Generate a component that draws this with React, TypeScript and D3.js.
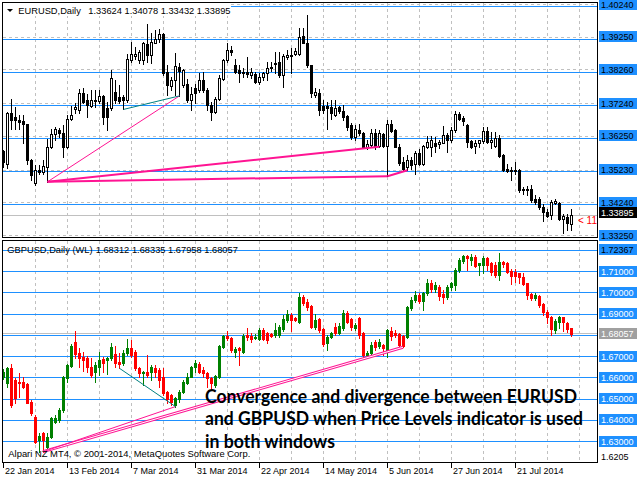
import * as d3 from "d3";

// MT4 screenshot: EURUSD (top) and GBPUSD (bottom) daily candles, with Price Levels lines

const firstDay = new Date(2014, 0, 22);
const lastDay = new Date(2014, 7, 9);

// [open, high, low, close]
const eurusd: number[][] = [
  [1.3583, 1.3585, 1.3534, 1.3549], [1.3544, 1.37, 1.3532, 1.3698], [1.3696, 1.3741, 1.365, 1.3677],
  [1.3686, 1.3716, 1.365, 1.3675], [1.3677, 1.3691, 1.365, 1.367], [1.3673, 1.3691, 1.3605, 1.3665],
  [1.3663, 1.3665, 1.3544, 1.3554], [1.3556, 1.3558, 1.3494, 1.3509], [1.3484, 1.3539, 1.3479, 1.3524],
  [1.3526, 1.3539, 1.3514, 1.352], [1.3519, 1.3554, 1.3514, 1.3536], [1.3534, 1.362, 1.3489, 1.3595],
  [1.3595, 1.365, 1.359, 1.3635], [1.3635, 1.3655, 1.3615, 1.365], [1.3647, 1.3653, 1.3625, 1.3637],
  [1.3637, 1.366, 1.3564, 1.3595], [1.3595, 1.3691, 1.359, 1.368], [1.368, 1.3718, 1.3675, 1.3691],
  [1.3708, 1.3726, 1.3696, 1.3714], [1.3706, 1.3771, 1.3696, 1.3758], [1.3758, 1.3774, 1.3726, 1.3731],
  [1.3738, 1.3756, 1.3686, 1.3721], [1.3718, 1.3766, 1.3716, 1.3738], [1.3738, 1.3768, 1.3716, 1.3734],
  [1.3734, 1.3768, 1.3726, 1.3748], [1.3748, 1.3751, 1.3665, 1.3686], [1.3711, 1.3731, 1.3645, 1.3686],
  [1.3711, 1.3827, 1.3706, 1.3802], [1.3761, 1.3797, 1.3726, 1.3736], [1.3746, 1.3781, 1.3726, 1.3734],
  [1.3746, 1.3751, 1.3708, 1.3736], [1.3736, 1.3877, 1.3731, 1.3862], [1.3859, 1.3913, 1.3852, 1.3875],
  [1.3869, 1.3898, 1.3862, 1.3875], [1.3859, 1.3887, 1.3847, 1.3882], [1.3857, 1.3913, 1.3845, 1.3908],
  [1.3906, 1.3968, 1.3852, 1.3872], [1.3872, 1.394, 1.3847, 1.3913], [1.391, 1.3948, 1.3908, 1.392],
  [1.392, 1.395, 1.3913, 1.3936], [1.3936, 1.3938, 1.3812, 1.3817], [1.3822, 1.3842, 1.3751, 1.3781],
  [1.3778, 1.3807, 1.3766, 1.3797], [1.3797, 1.3879, 1.3751, 1.3839], [1.3837, 1.3849, 1.3749, 1.3825],
  [1.3781, 1.3829, 1.3776, 1.3827], [1.3786, 1.3799, 1.3731, 1.3738], [1.3738, 1.3776, 1.3706, 1.3756],
  [1.3774, 1.3786, 1.3726, 1.3758], [1.3766, 1.3817, 1.3761, 1.3797], [1.3797, 1.3822, 1.3761, 1.3766],
  [1.3768, 1.3774, 1.3706, 1.3721], [1.3721, 1.3731, 1.3675, 1.3701], [1.3701, 1.3746, 1.3696, 1.3741],
  [1.3741, 1.3812, 1.3736, 1.3802], [1.3799, 1.3862, 1.3797, 1.3857], [1.3857, 1.3908, 1.3852, 1.3887],
  [1.3887, 1.39, 1.3872, 1.3882], [1.3842, 1.3862, 1.3817, 1.3822], [1.3827, 1.3842, 1.3792, 1.3819],
  [1.3822, 1.3832, 1.3805, 1.3817], [1.382, 1.3867, 1.3807, 1.3814], [1.3812, 1.3832, 1.3802, 1.3822],
  [1.3815, 1.3822, 1.3789, 1.3792], [1.3792, 1.3817, 1.3786, 1.3807], [1.3805, 1.3822, 1.3797, 1.3817],
  [1.3817, 1.3852, 1.3797, 1.3832], [1.3832, 1.3852, 1.3825, 1.3837], [1.3849, 1.3882, 1.3819, 1.3845],
  [1.3852, 1.3882, 1.3807, 1.3812], [1.3812, 1.3877, 1.3776, 1.3869], [1.3867, 1.3887, 1.3862, 1.3872],
  [1.3869, 1.3893, 1.3817, 1.3872], [1.3875, 1.3893, 1.3872, 1.3885], [1.3877, 1.3953, 1.3872, 1.3928],
  [1.393, 1.3953, 1.3908, 1.391], [1.391, 1.3994, 1.3837, 1.3842], [1.3842, 1.3842, 1.3746, 1.3758],
  [1.3753, 1.3774, 1.3746, 1.3761], [1.3758, 1.3771, 1.3691, 1.3706], [1.3718, 1.3736, 1.3696, 1.3706],
  [1.3718, 1.3731, 1.365, 1.3711], [1.3716, 1.3736, 1.368, 1.3696], [1.3691, 1.3736, 1.3688, 1.3711],
  [1.3714, 1.3718, 1.3696, 1.3703], [1.3703, 1.3721, 1.3675, 1.3686], [1.3688, 1.3691, 1.3645, 1.3655],
  [1.366, 1.3667, 1.362, 1.3625], [1.3625, 1.366, 1.3615, 1.365], [1.3647, 1.3665, 1.363, 1.3637],
  [1.3637, 1.364, 1.359, 1.3595], [1.3593, 1.3615, 1.3587, 1.3603], [1.36, 1.365, 1.3595, 1.3637],
  [1.3637, 1.365, 1.3587, 1.3597], [1.3597, 1.3645, 1.3595, 1.3637], [1.3635, 1.3637, 1.3593, 1.3597],
  [1.3597, 1.3675, 1.3506, 1.3663], [1.3663, 1.3677, 1.364, 1.3643], [1.3645, 1.365, 1.3593, 1.3595],
  [1.3595, 1.3603, 1.3539, 1.3546], [1.3549, 1.3564, 1.3524, 1.3529], [1.3534, 1.3569, 1.3524, 1.3554],
  [1.3554, 1.3564, 1.3529, 1.3539], [1.3542, 1.3583, 1.3514, 1.3577], [1.3575, 1.3587, 1.3539, 1.3544],
  [1.3544, 1.36, 1.3539, 1.3597], [1.3595, 1.3627, 1.359, 1.361], [1.3595, 1.3627, 1.3566, 1.3615],
  [1.3607, 1.3625, 1.358, 1.3597], [1.3603, 1.3615, 1.359, 1.361], [1.3607, 1.3657, 1.3605, 1.363],
  [1.363, 1.3637, 1.358, 1.3615], [1.3615, 1.3655, 1.361, 1.3645], [1.3645, 1.3703, 1.364, 1.3694],
  [1.3694, 1.3701, 1.3675, 1.368], [1.3683, 1.3688, 1.366, 1.3673], [1.366, 1.3665, 1.3595, 1.361],
  [1.3613, 1.3615, 1.359, 1.3595], [1.3597, 1.3615, 1.3577, 1.3607], [1.3605, 1.3617, 1.3595, 1.3615],
  [1.3613, 1.3655, 1.3605, 1.3643], [1.3643, 1.3655, 1.3605, 1.361], [1.361, 1.364, 1.359, 1.3615],
  [1.3597, 1.364, 1.3595, 1.3623], [1.3623, 1.363, 1.3564, 1.3566], [1.3569, 1.3572, 1.3522, 1.3524],
  [1.3529, 1.3542, 1.3519, 1.3522], [1.3526, 1.3534, 1.3494, 1.3522], [1.3526, 1.3549, 1.3514, 1.3522],
  [1.3526, 1.3529, 1.3458, 1.3463], [1.3463, 1.3473, 1.3453, 1.3466], [1.3466, 1.3475, 1.3448, 1.3463],
  [1.3466, 1.3479, 1.3428, 1.3433], [1.3438, 1.3448, 1.3423, 1.3428], [1.3438, 1.3443, 1.3408, 1.3413],
  [1.3413, 1.3421, 1.337, 1.3398], [1.3398, 1.3408, 1.3381, 1.3385], [1.3388, 1.3433, 1.3377, 1.3428],
  [1.3425, 1.3438, 1.3421, 1.343], [1.3425, 1.3428, 1.3372, 1.3377], [1.3377, 1.3393, 1.3334, 1.3385],
  [1.3382, 1.3393, 1.3342, 1.3364], [1.33624, 1.34078, 1.33432, 1.33895],
];

const gbpusd: number[][] = [
  [1.66, 1.664, 1.659, 1.6625], [1.6572, 1.665, 1.6556, 1.6642], [1.6642, 1.6663, 1.6462, 1.6469],
  [1.6587, 1.6595, 1.6477, 1.6501], [1.6579, 1.6622, 1.6509, 1.6572], [1.6579, 1.6603, 1.6548, 1.6556],
  [1.6568, 1.6572, 1.6477, 1.6481], [1.6485, 1.6493, 1.6422, 1.643], [1.6415, 1.6422, 1.6289, 1.6297],
  [1.6305, 1.6336, 1.625, 1.6324], [1.6339, 1.6344, 1.625, 1.6305], [1.6273, 1.6336, 1.6265, 1.632],
  [1.632, 1.6415, 1.6312, 1.6407], [1.6391, 1.6422, 1.6383, 1.6407], [1.6399, 1.6454, 1.6391, 1.6446],
  [1.6446, 1.6606, 1.6438, 1.66], [1.6595, 1.6663, 1.6579, 1.6658], [1.6652, 1.6756, 1.6646, 1.6747],
  [1.6768, 1.6819, 1.6689, 1.6709], [1.6716, 1.6736, 1.665, 1.6689], [1.6697, 1.6721, 1.6631, 1.6681],
  [1.6689, 1.67, 1.6626, 1.665], [1.665, 1.6689, 1.6603, 1.6611], [1.6626, 1.6674, 1.6579, 1.6658],
  [1.665, 1.6721, 1.6611, 1.6681], [1.6684, 1.6697, 1.6626, 1.6668], [1.6681, 1.6697, 1.6615, 1.6689],
  [1.6689, 1.6763, 1.6681, 1.6744], [1.671, 1.6748, 1.6646, 1.6668], [1.6674, 1.6713, 1.6642, 1.6662],
  [1.6668, 1.6728, 1.6658, 1.6716], [1.6716, 1.6778, 1.6705, 1.6736], [1.6736, 1.6775, 1.6697, 1.6705],
  [1.6721, 1.6728, 1.6634, 1.6642], [1.6642, 1.665, 1.6603, 1.6619], [1.6619, 1.6631, 1.6564, 1.6626],
  [1.6626, 1.6705, 1.6603, 1.6611], [1.6623, 1.6658, 1.6587, 1.665], [1.6642, 1.6658, 1.6603, 1.6626],
  [1.6634, 1.6642, 1.6556, 1.6587], [1.6603, 1.6642, 1.6517, 1.6525], [1.6532, 1.6537, 1.6477, 1.6498],
  [1.6517, 1.6521, 1.6469, 1.6485], [1.6469, 1.6509, 1.6462, 1.6501], [1.6498, 1.654, 1.6485, 1.6532],
  [1.6532, 1.6587, 1.6525, 1.6579], [1.6575, 1.6622, 1.6568, 1.6603], [1.6603, 1.6653, 1.6599, 1.6646],
  [1.6646, 1.6681, 1.6626, 1.6666], [1.6663, 1.6674, 1.6621, 1.6626], [1.6634, 1.665, 1.6603, 1.6622],
  [1.6622, 1.6626, 1.6556, 1.6595], [1.6595, 1.6603, 1.6548, 1.6572], [1.6564, 1.6611, 1.6556, 1.6606],
  [1.6603, 1.6752, 1.6595, 1.6747], [1.6744, 1.6799, 1.6736, 1.6794], [1.6794, 1.6819, 1.6775, 1.6783],
  [1.6783, 1.6791, 1.6721, 1.6728], [1.6721, 1.6741, 1.6693, 1.6731], [1.6736, 1.6744, 1.6658, 1.6728],
  [1.6721, 1.6803, 1.6713, 1.6794], [1.6799, 1.6834, 1.6775, 1.6791], [1.6794, 1.6807, 1.6768, 1.6779],
  [1.6783, 1.6803, 1.6778, 1.6791], [1.6779, 1.683, 1.6775, 1.6822], [1.6822, 1.683, 1.6775, 1.6779],
  [1.6807, 1.6815, 1.6763, 1.6775], [1.6803, 1.681, 1.6788, 1.6794], [1.6799, 1.6857, 1.6791, 1.6822],
  [1.6799, 1.6846, 1.6791, 1.6835], [1.6826, 1.6893, 1.6819, 1.6873], [1.687, 1.6917, 1.6862, 1.6897],
  [1.6893, 1.6901, 1.6819, 1.687], [1.6877, 1.6885, 1.6866, 1.6868], [1.6862, 1.6995, 1.6857, 1.6979],
  [1.6976, 1.6987, 1.694, 1.6951], [1.6956, 1.6967, 1.6917, 1.6932], [1.6935, 1.694, 1.683, 1.6838],
  [1.6835, 1.6897, 1.6826, 1.687], [1.6873, 1.6877, 1.6815, 1.6822], [1.6826, 1.683, 1.6747, 1.6757],
  [1.676, 1.6799, 1.6728, 1.6791], [1.6791, 1.6815, 1.6783, 1.681], [1.6835, 1.6854, 1.6799, 1.6807],
  [1.6807, 1.6854, 1.6804, 1.6841], [1.683, 1.6917, 1.6822, 1.6904], [1.6904, 1.6913, 1.6854, 1.6862],
  [1.6873, 1.6877, 1.6822, 1.6835], [1.683, 1.6854, 1.6822, 1.6846], [1.6877, 1.6885, 1.6783, 1.6799],
  [1.681, 1.6815, 1.6689, 1.6705], [1.6705, 1.6725, 1.6697, 1.6713], [1.6713, 1.6768, 1.6705, 1.6752],
  [1.6768, 1.6775, 1.6728, 1.6744], [1.6747, 1.6778, 1.6736, 1.6768], [1.6752, 1.6756, 1.6705, 1.6736],
  [1.673, 1.6826, 1.6697, 1.6822], [1.6819, 1.6838, 1.6775, 1.6794], [1.6807, 1.6822, 1.6791, 1.6799],
  [1.6803, 1.681, 1.6744, 1.6752], [1.6794, 1.6799, 1.6741, 1.6747], [1.6791, 1.6935, 1.6783, 1.6932],
  [1.6924, 1.6976, 1.6917, 1.6964], [1.6964, 1.7007, 1.6956, 1.6987], [1.6987, 1.6995, 1.6948, 1.6961],
  [1.6961, 1.7003, 1.6917, 1.6998], [1.6995, 1.7061, 1.6987, 1.7042], [1.7042, 1.7058, 1.7003, 1.7013],
  [1.7013, 1.705, 1.7003, 1.7034], [1.7026, 1.7034, 1.6964, 1.6983], [1.6992, 1.7011, 1.6948, 1.6979],
  [1.6979, 1.7034, 1.6967, 1.7026], [1.7026, 1.705, 1.7011, 1.7042], [1.7034, 1.7113, 1.7011, 1.7105],
  [1.7105, 1.716, 1.7097, 1.7152], [1.7149, 1.7175, 1.7136, 1.7171], [1.7171, 1.7175, 1.7105, 1.716],
  [1.715, 1.7178, 1.713, 1.7168], [1.7167, 1.7175, 1.712, 1.7124], [1.7128, 1.7139, 1.7081, 1.7136],
  [1.7128, 1.7171, 1.7089, 1.716], [1.716, 1.7167, 1.7105, 1.7128], [1.7136, 1.7144, 1.7081, 1.7097],
  [1.7128, 1.7144, 1.7073, 1.7081], [1.7081, 1.7186, 1.7058, 1.7144], [1.7144, 1.7149, 1.712, 1.7133],
  [1.7139, 1.7144, 1.7092, 1.7097], [1.7101, 1.7108, 1.7039, 1.7077], [1.7097, 1.7108, 1.705, 1.7077],
  [1.7089, 1.7092, 1.7042, 1.7073], [1.707, 1.7089, 1.7034, 1.7039], [1.7042, 1.7045, 1.6967, 1.6987],
  [1.6992, 1.6998, 1.6964, 1.6971], [1.6971, 1.6995, 1.6964, 1.6987], [1.6983, 1.6987, 1.6932, 1.694],
  [1.6945, 1.6951, 1.6893, 1.6909], [1.6909, 1.6917, 1.6854, 1.6885], [1.6885, 1.6888, 1.6799, 1.6826],
  [1.6822, 1.6873, 1.681, 1.6866], [1.6858, 1.6888, 1.683, 1.6882], [1.6882, 1.6885, 1.6819, 1.6858],
  [1.6854, 1.6862, 1.6815, 1.6826], [1.68312, 1.68335, 1.67958, 1.68057],
];

const dateTicks = ["22 Jan 2014", "13 Feb 2014", "7 Mar 2014", "31 Mar 2014", "22 Apr 2014",
  "14 May 2014", "5 Jun 2014", "27 Jun 2014", "21 Jul 2014"];

const eurTicks = [1.4024, 1.3925, 1.3826, 1.3724, 1.3625, 1.3523, 1.3424, 1.3325];
const eurLevels = [1.402, 1.392, 1.382, 1.372, 1.3623, 1.3523, 1.3423, 1.3323];
const gbpLevels = [1.72, 1.71, 1.7, 1.69, 1.68, 1.67, 1.66, 1.65, 1.64, 1.63];
const gbpTopPrice = 1.72367;
const gbpBottomPrice = 1.6205;

// trend lines between bar lows: [fromBar, toBar]
const eurSteep = [[11, 44]];
const eurTeal = [[30, 44]];
const eurWide = [[11, 94], [11, 96], [96, 101]];
const gbpSteep = [[10, 43]];
const gbpTeal = [[29, 43]];
const gbpDouble = [[10, 100]];

const captionLines = [
  "Convergence and divergence between EURUSD",
  "and GBPUSD when Price Levels indicator is used",
  "in both windows",
];

const BLUE = "#1E90FF";
const PINK = "#FF1493";
const TEAL = "#008080";
const GRID = "#C0C0C0";
const SANS = "'Liberation Sans', Arial, sans-serif";

const snap = (v: number) => Math.round(v) + 0.5;

export default function App() {
  const days = d3.timeDay
    .range(firstDay, lastDay)
    .filter((d) => d.getDay() !== 0 && d.getDay() !== 6)
    .slice(0, eurusd.length);
  const n = days.length;

  const x = d3.scaleLinear().domain([0, n - 1]).range([3, 3 + 4 * (n - 1)]);
  const yEur = d3.scaleLinear().domain([1.3325, 1.4024]).range([236, 5]);
  const yGbp = d3.scaleLinear().domain([1.63, 1.72]).range([441, 249.75]);

  const parse = d3.timeParse("%d %b %Y");
  const tickIdx = dateTicks.map((t) => {
    const d = parse(t)!;
    return days.findIndex((b) => b.getTime() === d.getTime());
  });
  const gridIdx = d3.range(8, 145, 8);
  const fmt = d3.format(".5f");

  const eurCandles = eurusd.map(([o, h, l, c], i) => {
    const cx = Math.round(x(i));
    const top = Math.round(yEur(Math.max(o, c)));
    const bot = Math.round(yEur(Math.min(o, c)));
    const bull = c > o;
    return (
      <g key={i}>
        <line x1={cx + 0.5} x2={cx + 0.5} y1={Math.round(yEur(h))} y2={Math.round(yEur(l)) + 1} stroke="#000" />
        {bull ? (
          <rect x={cx - 0.5} y={top + 0.5} width={2} height={Math.max(bot - top, 1)} fill="#fff" stroke="#000" />
        ) : (
          <rect x={cx - 1} y={top} width={3} height={bot - top + 1} fill="#000" />
        )}
      </g>
    );
  });

  const gbpCandles = gbpusd.map(([o, h, l, c], i) => {
    const cx = Math.round(x(i));
    const top = Math.round(yGbp(Math.max(o, c)));
    const bot = Math.round(yGbp(Math.min(o, c)));
    const col = c >= o ? "#008000" : "#FF0000";
    return (
      <g key={i}>
        <line x1={cx + 0.5} x2={cx + 0.5} y1={Math.round(yGbp(h))} y2={Math.round(yGbp(l)) + 1} stroke={col} />
        <rect x={cx - 1} y={top} width={3} height={bot - top + 1} fill={col} />
      </g>
    );
  });

  const trend = (data: number[][], pairs: number[][], y: d3.ScaleLinear<number, number>, stroke: string, w: number) =>
    pairs.map(([a, b], k) => (
      <line
        key={`${stroke}${w}${k}`}
        x1={x(a) + 0.5}
        y1={y(data[a][2])}
        x2={x(b) + 0.5}
        y2={y(data[b][2])}
        stroke={stroke}
        strokeWidth={w}
      />
    ));

  const vGrid = (y1: number, y2: number) =>
    gridIdx.map((i) => (
      <line key={i} x1={snap(x(i))} x2={snap(x(i))} y1={y1} y2={y2} stroke={GRID} strokeDasharray="3,3" />
    ));

  const label = (cy: number, text: string, bg: string, fg: string, key: string) => (
    <g key={key}>
      {bg !== "none" && <rect x={599} y={Math.round(cy - 5.5)} width={38} height={11} fill={bg} />}
      <text x={601} y={cy + 3.5} fontSize={9} fill={fg} fontFamily={SANS}>{text}</text>
    </g>
  );

  const eurLast = eurusd[n - 1][3];
  const gbpLast = gbpusd[n - 1][3];

  return (
    <svg width={640} height={480} style={{ position: "fixed", left: 0, top: 0, background: "#fff" }}>
      <defs>
        <clipPath id="eurClip"><rect x={3} y={3} width={594} height={234} /></clipPath>
        <clipPath id="gbpClip"><rect x={3} y={241} width={594} height={221} /></clipPath>
      </defs>
      <rect width={640} height={480} fill="#fff" />

      {/* EURUSD panel */}
      <g clipPath="url(#eurClip)">
        {vGrid(3, 237)}
        {eurTicks.map((p) => (
          <line key={p} x1={3} x2={597} y1={snap(yEur(p)) - 1} y2={snap(yEur(p)) - 1} stroke={GRID} strokeDasharray="3,3" />
        ))}
        {eurLevels.map((p) => (
          <line key={p} x1={3} x2={597} y1={snap(yEur(p))} y2={snap(yEur(p))} stroke={BLUE} />
        ))}
        <line x1={3} x2={597} y1={snap(yEur(eurLast))} y2={snap(yEur(eurLast))} stroke={GRID} />
        {eurCandles}
        {trend(eurusd, eurWide, yEur, PINK, 2)}
        {trend(eurusd, eurSteep, yEur, PINK, 1)}
        {trend(eurusd, eurTeal, yEur, TEAL, 1)}
        <text x={578} y={223.5} fontSize={10} fill="#FF0000" fontFamily={SANS}>{"< 11"}</text>
        <rect x={3} y={3} width={228} height={13} fill="#fff" />
        <path d="M7,9 L13,9 L10,12 Z" fill="#000" />
        <text x={18.3} y={14} fontSize={9.3} fontFamily={SANS} fill="#000">EURUSD,Daily</text>
        <text x={88.3} y={14} fontSize={9.3} fontFamily={SANS} fill="#000">
          {eurusd[n - 1].map((v) => fmt(v)).join(" ")}
        </text>
      </g>
      <rect x={2.5} y={2.5} width={595} height={235} fill="none" stroke="#000" />

      {/* GBPUSD panel */}
      <g clipPath="url(#gbpClip)">
        {vGrid(241, 462)}
        {gbpLevels.map((p) => (
          <line key={p} x1={3} x2={597} y1={snap(yGbp(p))} y2={snap(yGbp(p))} stroke={BLUE} />
        ))}
        <line x1={3} x2={597} y1={snap(yGbp(gbpLast)) - 1} y2={snap(yGbp(gbpLast)) - 1} stroke={GRID} />
        {gbpCandles}
        {gbpDouble.map(([a, b], k) => (
          <g key={k}>
            <line x1={x(a)} y1={yGbp(gbpusd[a][2])} x2={x(b)} y2={yGbp(gbpusd[b][2])} stroke={PINK} strokeWidth={3} />
            <line x1={x(a)} y1={yGbp(gbpusd[a][2])} x2={x(b)} y2={yGbp(gbpusd[b][2])} stroke="#fff" strokeWidth={1} />
          </g>
        ))}
        {trend(gbpusd, gbpSteep, yGbp, PINK, 1)}
        {trend(gbpusd, gbpTeal, yGbp, TEAL, 1)}
        <text x={7.3} y={252.7} fontSize={9.3} fontFamily={SANS} fill="#000">GBPUSD,Daily (WL)</text>
        <text x={95.7} y={252.7} fontSize={9.3} fontFamily={SANS} fill="#000">
          {gbpusd[n - 1].map((v) => fmt(v)).join(" ")}
        </text>
        <text x={8.3} y={457.3} fontSize={9.3} fontFamily={SANS} fill="#000" textLength={242} lengthAdjust="spacingAndGlyphs">
          Alpari NZ MT4, © 2001-2014, MetaQuotes Software Corp.
        </text>
      </g>
      <rect x={2.5} y={240.5} width={595} height={222} fill="none" stroke="#000" />

      {/* price scale */}
      {eurTicks.map((p) => label(yEur(p) - 1, fmt(p), BLUE, "#000", `e${p}`))}
      {label(yEur(eurLast) - 2, fmt(eurLast), "#000", "#fff", "elast")}
      {gbpLevels
        .filter((p) => p !== 1.72 && p !== 1.68)
        .map((p) => label(yGbp(p), fmt(p), BLUE, "#fff", `g${p}`))}
      {label(yGbp(1.72), fmt(gbpTopPrice), BLUE, "#000", "gtop")}
      {label(yGbp(gbpLast), fmt(gbpLast), "#A0A0A0", "#fff", "glast")}
      {label(456, String(gbpBottomPrice), "none", "#000", "gbot")}

      {/* date axis */}
      {tickIdx.map((i, k) => (
        <g key={k}>
          <line x1={snap(x(i))} x2={snap(x(i))} y1={463} y2={468} stroke="#000" />
          <text x={x(i) + 2} y={474} fontSize={9} fontFamily={SANS} fill="#000">{dateTicks[k]}</text>
        </g>
      ))}

      {/* caption */}
      {captionLines.map((t, k) => (
        <text
          key={k}
          x={205}
          y={403 + k * 22.3}
          fontSize={18.5}
          fontWeight="bold"
          fontFamily="Lato, 'Open Sans', sans-serif"
          fill="#000"
          textLength={[372, 378, 130][k]}
          lengthAdjust="spacingAndGlyphs"
        >
          {t}
        </text>
      ))}
    </svg>
  );
}
